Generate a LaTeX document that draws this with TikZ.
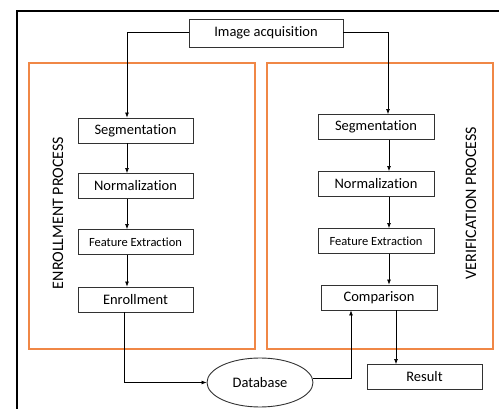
\documentclass[tikz,border=0pt]{standalone}
\usepackage{fontspec}
\setmainfont{Carlito}[Ligatures=NoCommon]
\usetikzlibrary{arrows.meta,shapes.geometric}
\definecolor{frameorange}{RGB}{240,135,70}
\definecolor{boxline}{RGB}{50,50,50}
\begin{document}
\begin{tikzpicture}[x=1pt,y=-1pt,
  procbox/.style={draw=boxline,line width=0.9pt,minimum width=115pt,minimum height=25pt,inner sep=0pt,font=\fontsize{14.5}{16}\selectfont},
  smallbox/.style={procbox,font=\fontsize{12.5}{14}\selectfont},
  arr/.style={draw=black,line width=0.7pt,-{Latex[length=5pt,width=4pt]}},
  region/.style={draw=frameorange,line width=1.2pt},
  sidelabel/.style={rotate=90,font=\fontsize{16}{18}\selectfont}]
\useasboundingbox (0,0) rectangle (499,409);
\fill[white] (0,0) rectangle (499,409);
% outer frame (cropped)
\draw[line width=2pt] (16.5,409) -- (16.5,11.5) -- (499,11.5);
% regions
\draw[region] (29,63) rectangle (255,349);
\draw[region] (267,63) rectangle (493,349);
\node[sidelabel] (enrl) at (58,213) {ENROLLMENT PROCESS};
\node[sidelabel] (verl) at (471,203) {VERIFICATION PROCESS};
% nodes
\node[procbox,minimum width=154pt,minimum height=28pt] (ia) at (266,33) {Image acquisition};
\node[procbox] (lseg) at (135.5,130.5) {Segmentation};
\node[procbox] (lnor) at (135.5,186) {Normalization};
\node[smallbox] (lfe) at (135.5,242) {Feature Extraction};
\node[procbox] (lenr) at (135.5,299.5) {Enrollment};
\node[procbox,minimum width=116pt] (rseg) at (376,127) {Segmentation};
\node[procbox,minimum width=116pt] (rnor) at (376,184) {Normalization};
\node[smallbox,minimum width=116pt] (rfe) at (376,241) {Feature Extraction};
\node[procbox,minimum width=116pt] (rcmp) at (379,297.5) {Comparison};
\node[draw=boxline,line width=0.9pt,ellipse,minimum width=106pt,minimum height=49pt,inner sep=0pt,font=\fontsize{14.5}{16}\selectfont] (db) at (260,382.5) {Database};
\node[procbox] (res) at (424.5,377) {Result};
% connectors
\draw[arr] (ia.west |- 0,32) -| (lseg.north -| 127,0);
\draw[arr] (ia.east |- 0,32) -| (rseg.north -| 388,0);
\draw[arr] (lseg.south -| 127,0) -- (lnor.north -| 127,0);
\draw[arr] (lnor.south -| 127,0) -- (lfe.north -| 127,0);
\draw[arr] (lfe.south -| 127,0) -- (lenr.north -| 127,0);
\draw[arr] (rseg.south -| 389,0) -- (rnor.north -| 389,0);
\draw[arr] (rnor.south -| 389,0) -- (rfe.north -| 389,0);
\draw[arr] (rfe.south -| 389,0) -- (rcmp.north -| 389,0);
\draw[arr] (lenr.south -| 124,0) |- (db.west);
\draw[arr] (db.east |- 0,378) -| (rcmp.south -| 351,0);
\draw[arr] (rcmp.south -| 396,0) -- (res.north -| 396,0);
\end{tikzpicture}
\end{document}
